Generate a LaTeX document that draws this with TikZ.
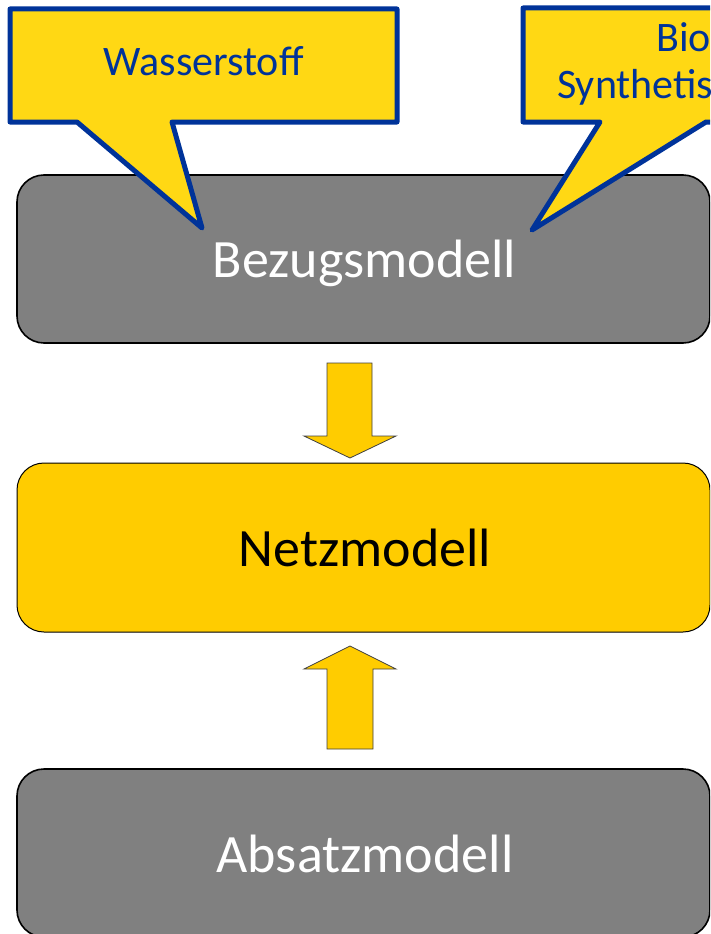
\documentclass[tikz,border=0pt]{standalone}
\usepackage{fontspec}
\setmainfont{Carlito}
\definecolor{boxgray}{HTML}{808080}
\definecolor{netzgold}{HTML}{FFCC00}
\definecolor{callyellow}{HTML}{FFD814}
\definecolor{callblue}{HTML}{003399}
\tikzset{
  modelbox/.style={draw=black, line width=1.6pt, rounded corners=27pt, inner sep=0pt, minimum width=693pt},
  bigtext/.style={anchor=base, inner sep=0pt, font=\fontsize{54}{60}\selectfont},
  blockarrow/.style={fill=netzgold, draw=black!75, line width=0.8pt, line join=miter},
  callout/.style={fill=callyellow, draw=callblue, line width=5pt, line join=round},
  calltext/.style={inner sep=0pt, text=callblue, font=\fontsize{42}{46}\selectfont}
}
\begin{document}
\begin{tikzpicture}[x=1pt,y=-1pt]
\useasboundingbox (0,0) rectangle (710,934);
\clip (0,0) rectangle (710,934);
% model boxes
\node[modelbox, fill=boxgray, minimum height=168pt] (bez) at (363.5,259) {};
\node[modelbox, fill=netzgold, line width=1pt, minimum height=169pt] (netz) at (363.5,547.5) {};
\node[modelbox, fill=boxgray, minimum height=168pt] (abs) at (363.5,853) {};
\node[bigtext, text=white] (bezt) at (364.5,277) {Bezugsmodell};
\node[bigtext, text=black] (netzt) at (365,566) {Netzmodell};
\node[bigtext, text=white] (abst) at (365,872) {Absatzmodell};
% block arrows
\draw[blockarrow] (327,363) -- (372,363) -- (372,436) -- (396,436) -- (350,458) -- (304,436) -- (327,436) -- cycle;
\draw[blockarrow] (327,749) -- (373,749) -- (373,669) -- (396,669) -- (350,646) -- (304,669) -- (327,669) -- cycle;
% callouts
\draw[callout] (10,9) -- (397,9) -- (397,122) -- (172,122) -- (202,228) -- (77,122) -- (10,122) -- cycle;
\node[calltext, anchor=base] (wass) at (203.5,76) {Wasserstoff};
\draw[callout] (523,8) -- (770,8) -- (770,122) -- (706,122) -- (532,230) -- (600,122) -- (523,122) -- cycle;
\node[calltext, anchor=base west] (bio) at (656,52) {Bio};
\node[calltext, anchor=base west] (syn) at (557,98) {Synthetis};
\end{tikzpicture}
\end{document}
